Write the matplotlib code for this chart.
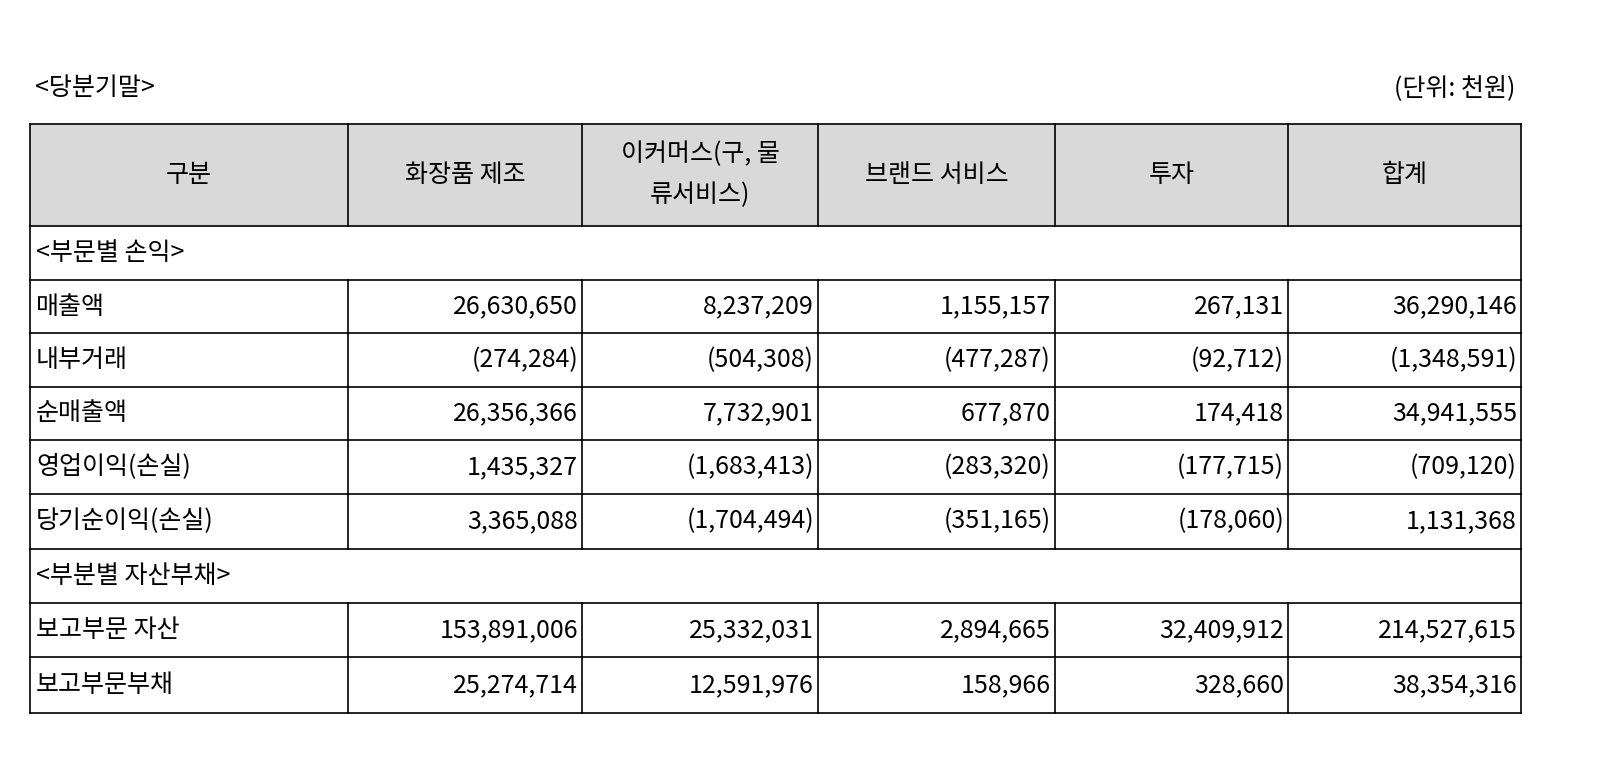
import matplotlib.pyplot as plt
from matplotlib.patches import Rectangle

plt.rcParams['font.family'] = ['Noto Sans CJK KR', 'DejaVu Sans']

headers = ['구분', '화장품 제조', '이커머스(구, 물\n류서비스)', '브랜드 서비스', '투자', '합계']
rows = [
    ['<부문별 손익>'],
    ['매출액', '26,630,650', '8,237,209', '1,155,157', '267,131', '36,290,146'],
    ['내부거래', '(274,284)', '(504,308)', '(477,287)', '(92,712)', '(1,348,591)'],
    ['순매출액', '26,356,366', '7,732,901', '677,870', '174,418', '34,941,555'],
    ['영업이익(손실)', '1,435,327', '(1,683,413)', '(283,320)', '(177,715)', '(709,120)'],
    ['당기순이익(손실)', '3,365,088', '(1,704,494)', '(351,165)', '(178,060)', '1,131,368'],
    ['<부분별 자산부채>'],
    ['보고부문 자산', '153,891,006', '25,332,031', '2,894,665', '32,409,912', '214,527,615'],
    ['보고부문부채', '25,274,714', '12,591,976', '158,966', '328,660', '38,354,316'],
]

# layout in pixels
col_x = [30, 348, 582, 818, 1055, 1288, 1521]
row_y = [124, 226, 280, 333, 387, 440, 494, 549, 603, 657, 713]
fs = 18

fig = plt.figure(figsize=(15.98, 7.76), dpi=100)
ax = fig.add_axes([0, 0, 1, 1])
ax.set_xlim(0, 1598)
ax.set_ylim(776, 0)
ax.axis('off')

ax.text(35, 88, '<당분기말>', fontsize=fs, va='center', ha='left')
ax.text(1515, 88, '(단위: 천원)', fontsize=fs, va='center', ha='right')

# header
ax.add_patch(Rectangle((col_x[0], row_y[0]), col_x[-1] - col_x[0], row_y[1] - row_y[0],
                       facecolor='#d9d9d9', edgecolor='none'))
for i, h in enumerate(headers):
    ax.text((col_x[i] + col_x[i + 1]) / 2, (row_y[0] + row_y[1]) / 2, h,
            fontsize=fs, ha='center', va='center', linespacing=1.75)

# body
for r, row in enumerate(rows):
    y0, y1 = row_y[r + 1], row_y[r + 2]
    yc = (y0 + y1) / 2
    ax.text(col_x[0] + 6, yc, row[0], fontsize=fs, ha='left', va='center')
    for c, v in enumerate(row[1:], start=1):
        ax.text(col_x[c + 1] - 4, yc, v, fontsize=fs, ha='right', va='center')

# grid lines
lw = 1.2
for y in row_y:
    ax.plot([col_x[0], col_x[-1]], [y, y], color='black', lw=lw)
for r in range(len(row_y) - 1):
    y0, y1 = row_y[r], row_y[r + 1]
    full = r == 0 or len(rows[r - 1]) > 1
    xs = col_x if full else [col_x[0], col_x[-1]]
    for x in xs:
        ax.plot([x, x], [y0, y1], color='black', lw=lw)

fig.savefig('out.png', dpi=100)
